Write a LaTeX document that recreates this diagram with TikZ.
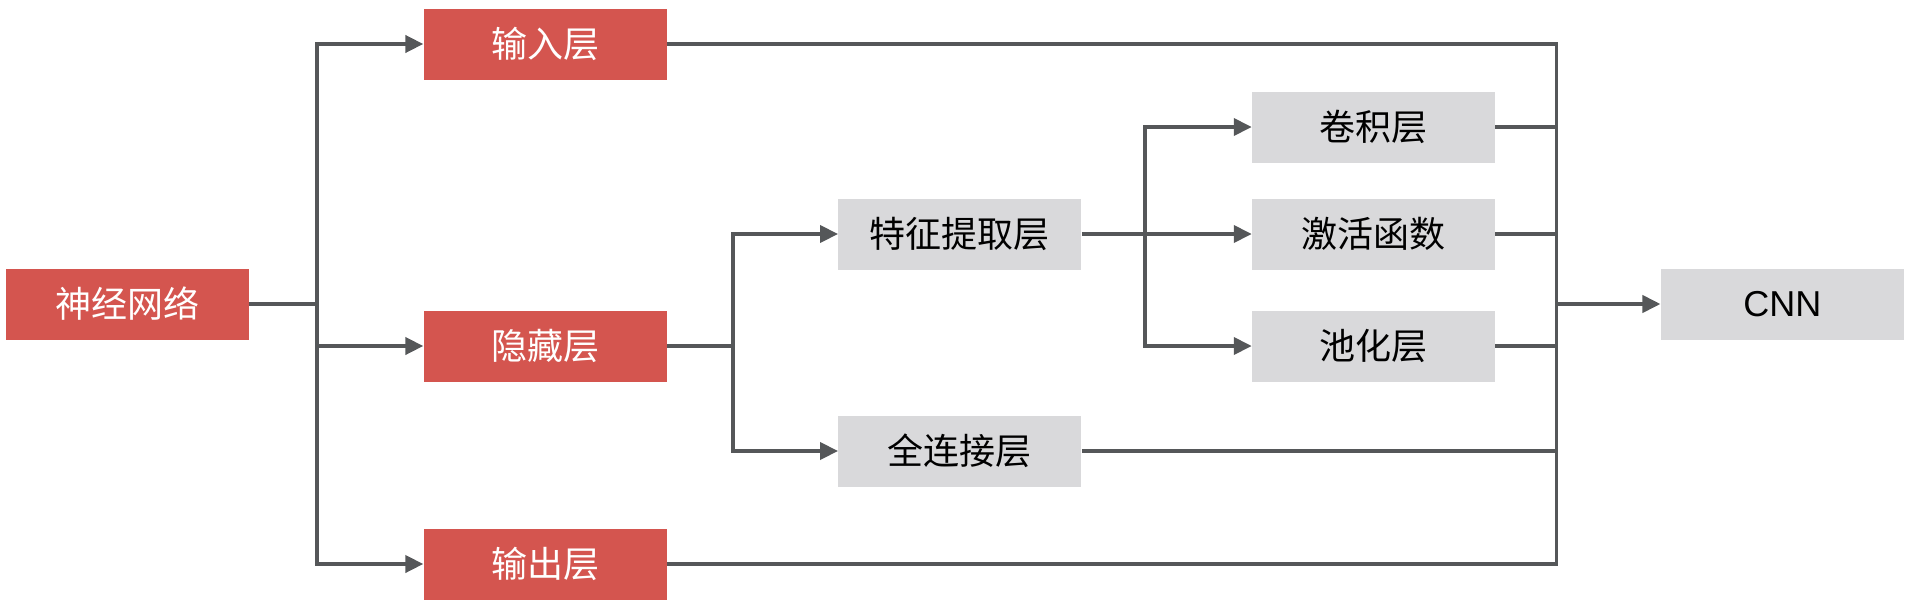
\documentclass[tikz,border=0pt]{standalone}
\usepackage{fontspec}
\setmainfont{Liberation Sans}
\newfontfamily\cjk{Noto Sans CJK SC}
\usetikzlibrary{arrows.meta, positioning}
\definecolor{LayerRed}{HTML}{D4554F}
\definecolor{LayerGray}{HTML}{D9D9DB}
\definecolor{LineGray}{HTML}{555759}

\begin{document}
\begin{tikzpicture}[
  every node/.style = {font=\cjk\fontsize{20.5}{24}\selectfont},
  block/.style = {
    rectangle, minimum width=4.86cm, minimum height=1.42cm,
    align=center, inner sep=0pt
  },
  redblock/.style  = {block, fill=LayerRed, text=white},
  grayblock/.style = {block, fill=LayerGray, text=black},
  arr/.style  = {-{Triangle[length=0.36cm, width=0.34cm]}, line width=2.2pt, color=LineGray},
  wire/.style = {line width=2.2pt, color=LineGray},
]

\useasboundingbox (-2.55,-6.12) rectangle (35.59,6.08);

% Root node
\node[redblock] (nn) {神经网络};

% Layer row
\node[redblock, right=3.48cm of nn, yshift=5.2cm] (inp) {输入层};
\node[redblock, right=3.48cm of nn, yshift=-0.84cm] (hid) {隐藏层};
\node[redblock, right=3.48cm of nn, yshift=-5.2cm] (outp) {输出层};

% Hidden layer parts
\node[grayblock, right=3.42cm of hid, yshift=2.24cm] (feat) {特征提取层};
\node[grayblock, right=3.42cm of hid, yshift=-2.1cm] (fc) {全连接层};

% Feature extraction parts
\node[grayblock, right=3.4cm of feat, yshift=2.14cm] (conv) {卷积层};
\node[grayblock, right=3.4cm of feat] (act) {激活函数};
\node[grayblock, right=3.4cm of feat, yshift=-2.24cm] (pool) {池化层};

% Result
\node[grayblock, font=\fontsize{20.5}{24}\selectfont,
      right=3.3cm of conv, yshift=-3.54cm] (cnn) {CNN};

% Branch points
\coordinate[right=1.36cm of nn] (split1);
\coordinate[right=1.32cm of hid] (split2);
\coordinate[right=1.26cm of feat] (split3);
\coordinate[right=1.22cm of conv] (merge);

% Arrows
\draw[wire] (nn) -- (split1);
\draw[arr] (split1) |- (inp);
\draw[arr] (split1) |- (hid);
\draw[arr] (split1) |- (outp);
\draw[wire] (hid) -- (split2);
\draw[arr] (split2) |- (feat);
\draw[arr] (split2) |- (fc);
\draw[wire] (feat) -- (split3);
\draw[arr] (split3) |- (conv);
\draw[arr] (split3) -- (act);
\draw[arr] (split3) |- (pool);

% Merge bus
\draw[wire] (inp) -| (merge |- outp) -- (outp);
\draw[wire] (conv) -- (merge);
\draw[wire] (act) -- (act -| merge);
\draw[wire] (pool) -- (pool -| merge);
\draw[wire] (fc) -- (fc -| merge);
\draw[arr] (cnn -| merge) -- (cnn);

\end{tikzpicture}
\end{document}
